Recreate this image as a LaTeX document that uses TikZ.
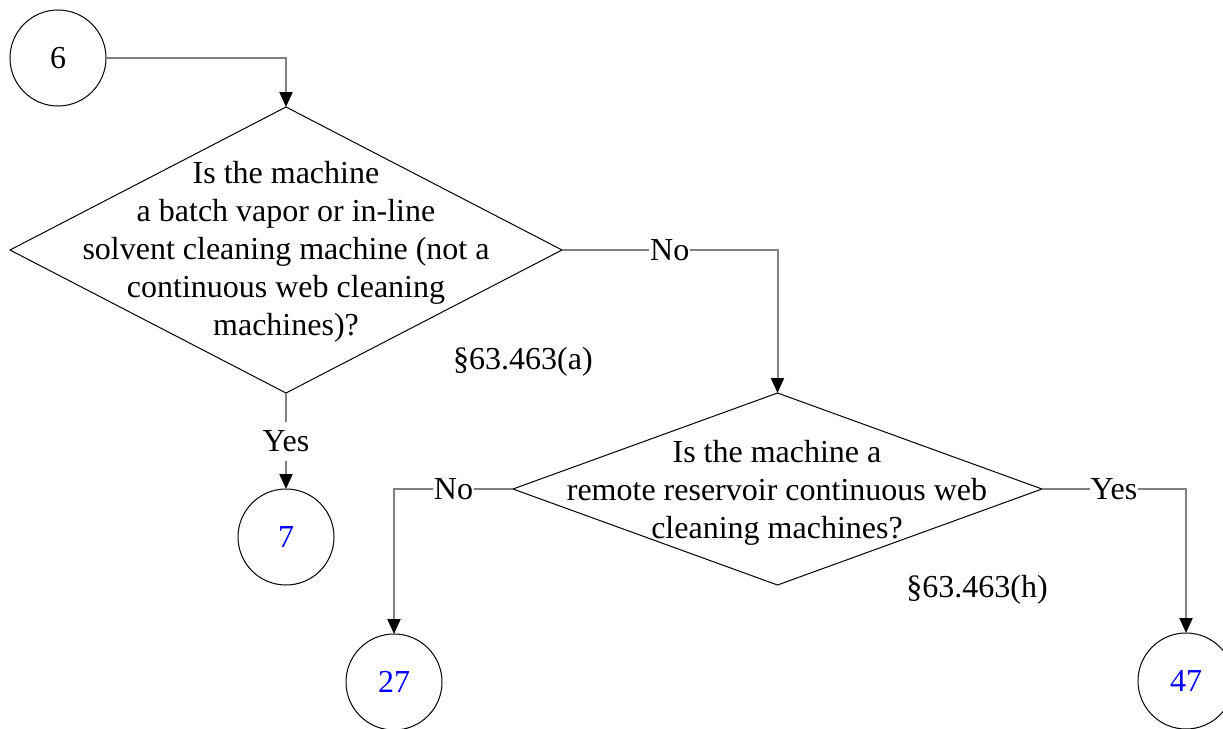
\documentclass[tikz,border=0pt]{standalone}
\usepackage{fontspec}
\setmainfont{Liberation Serif}
\usetikzlibrary{shapes.geometric,arrows.meta}
\definecolor{linegray}{RGB}{128,128,128}
\definecolor{numblue}{RGB}{0,0,255}
\begin{document}
\begin{tikzpicture}[x=1pt,y=-1pt,
  font=\fontsize{32}{38}\selectfont,
  term/.style={circle,draw=black,line width=1pt,minimum size=96pt,inner sep=0pt,outer sep=0pt},
  decision/.style={diamond,draw=black,line width=1pt,inner sep=0pt,outer sep=0pt},
  qtext/.style={align=center,inner sep=0pt},
  conn/.style={draw=linegray,line width=2pt,-{Triangle[length=15pt,width=13pt,color=black]}},
  lbl/.style={fill=white,inner xsep=1pt,inner ysep=0pt,text height=30pt,text depth=9pt},
  refl/.style={anchor=base,inner sep=0pt}
]
\useasboundingbox (0,0) rectangle (1223,728);

\node[term] (c6) at (58,58) {6};
\node[decision, minimum width=552pt, minimum height=286pt] (d1) at (286,250) {};
\node[qtext] (d1t) at (286,252) {Is the machine\\ a batch vapor or in-line\\ solvent cleaning machine (not a\\ continuous web cleaning\\ machines)?};
\node[refl] (ra) at (523,369) {§63.463(a)};
\node[term,text=numblue] (c7) at (286,537) {7};
\node[decision, minimum width=529pt, minimum height=192pt] (d2) at (777.5,489) {};
\node[qtext] (d2t) at (777,493) {Is the machine a\\ remote reservoir continuous web\\ cleaning machines?};
\node[refl] (rh) at (977,597) {§63.463(h)};
\node[term,text=numblue] (c27) at (394,682) {27};
\node[term,text=numblue] (c47) at (1186,681) {47};

\draw[conn] (c6.east) -| (d1.north);
\draw[conn] (d1.east) -| node[lbl,pos=0.25] {No} (d2.north);
\draw[conn] (d1.south) -- node[lbl] {Yes} (c7.north);
\draw[conn] (d2.west) -| node[lbl,pos=0.25] {No} (c27.north);
\draw[conn] (d2.east) -| node[lbl,pos=0.25] {Yes} (c47.north);
\end{tikzpicture}
\end{document}
